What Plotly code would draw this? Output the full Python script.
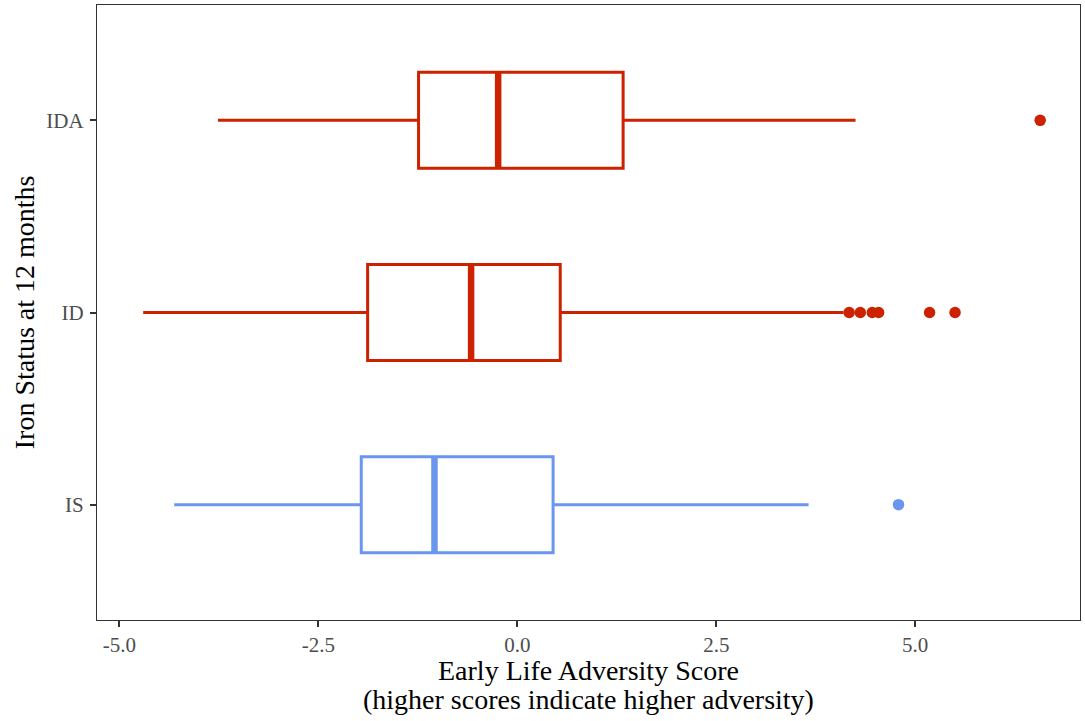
import plotly.graph_objects as go

categories = ["IS", "ID", "IDA"]
colors = ["#6A96F0", "#CC2200", "#CC2200"]
lower_whisker = [-4.31, -4.70, -3.76]
q1 = [-1.96, -1.88, -1.24]
median = [-1.04, -0.58, -0.24]
q3 = [0.45, 0.54, 1.33]
upper_whisker = [3.66, 4.10, 4.25]
outliers = [[4.79], [4.17, 4.31, 4.46, 4.54, 5.18, 5.50], [6.57]]
x_title_lines = ["Early Life Adversity Score", "(higher scores indicate higher adversity)"]
y_title = "Iron Status at 12 months"

BOX_W = 0.5
FONT = "Liberation Serif"

fig = go.Figure()
for i, cat in enumerate(categories):
    pos = i + 1
    fig.add_trace(go.Box(
        y=[pos], q1=[q1[i]], median=[median[i]], q3=[q3[i]],
        lowerfence=[lower_whisker[i]], upperfence=[upper_whisker[i]],
        orientation="h", width=BOX_W, whiskerwidth=0,
        line=dict(color=colors[i], width=3), fillcolor="rgba(255,255,255,0)",
        boxpoints=False, showlegend=False, hoverinfo="skip",
    ))
    fig.add_trace(go.Scatter(
        x=[median[i], median[i]], y=[pos - BOX_W / 2, pos + BOX_W / 2],
        mode="lines", line=dict(color=colors[i], width=6.5),
        showlegend=False, hoverinfo="skip",
    ))
    fig.add_trace(go.Scatter(
        x=outliers[i], y=[pos] * len(outliers[i]), mode="markers",
        marker=dict(color=colors[i], size=11.5),
        showlegend=False,
    ))

# x title lines (ggplot-like tight line spacing)
fig.add_annotation(text=x_title_lines[0], xref="paper", yref="paper", x=0.5, y=-0.0815,
                   xanchor="center", yanchor="middle", showarrow=False,
                   font=dict(family=FONT, size=28, color="black"))
fig.add_annotation(text=x_title_lines[1], xref="paper", yref="paper", x=0.5, y=-0.1285,
                   xanchor="center", yanchor="middle", showarrow=False,
                   font=dict(family=FONT, size=28, color="black"))
fig.add_annotation(text=y_title, xref="paper", yref="paper", x=-0.0735, y=0.5,
                   xanchor="center", yanchor="middle", textangle=-90, showarrow=False,
                   font=dict(family=FONT, size=28, color="black"))

fig.update_layout(
    width=1085, height=721,
    margin=dict(l=97, r=5, t=5, b=101),
    paper_bgcolor="white", plot_bgcolor="white",
    font=dict(family=FONT, color="black"),
    xaxis=dict(
        range=[-5.28, 7.07], tickvals=[-5, -2.5, 0, 2.5, 5],
        ticktext=["-5.0", "-2.5", "0.0", "2.5", "5.0"],
        showgrid=False, zeroline=False, automargin=False,
        showline=True, linecolor="#333333", linewidth=1.2, mirror=True,
        ticks="outside", ticklen=6, tickcolor="#333333", tickwidth=1.5,
        tickfont=dict(family=FONT, size=21, color="#4D4D4D"),
    ),
    yaxis=dict(
        range=[0.4, 3.6], tickvals=[1, 2, 3], ticktext=categories,
        showgrid=False, zeroline=False, automargin=False,
        showline=True, linecolor="#333333", linewidth=1.2, mirror=True,
        ticks="outside", ticklen=6, tickcolor="#333333", tickwidth=1.5,
        ticklabelstandoff=2,
        tickfont=dict(family=FONT, size=21, color="#4D4D4D"),
    ),
)

fig.write_html("out.html", config={"displayModeBar": False},
               post_script="document.body.style.margin='0';")
